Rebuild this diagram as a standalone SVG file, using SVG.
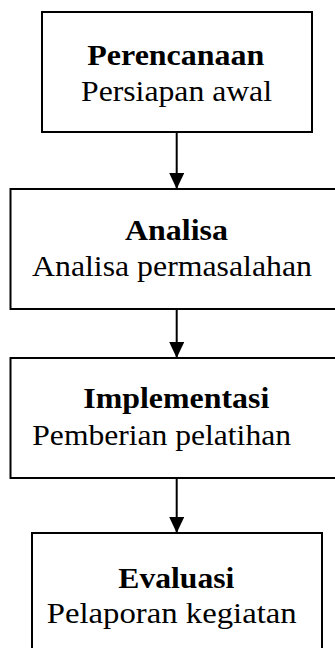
<svg xmlns="http://www.w3.org/2000/svg" width="335" height="648" viewBox="0 0 335 648">
  <style>
    .box { fill: #ffffff; stroke: #000000; stroke-width: 2; }
    .t { font-family: "Liberation Serif", "Times New Roman", serif; font-size: 29px; fill: #000000; }
    .b { font-weight: bold; }
    .conn { stroke: #000000; stroke-width: 2; fill: none; }
  </style>
  <defs>
    <marker id="arrow" markerUnits="userSpaceOnUse" markerWidth="16" markerHeight="15" refX="16" refY="7.5" orient="auto">
      <path d="M0,0 L16,7.5 L0,15 z" fill="#000000"/>
    </marker>
  </defs>
  <rect width="335" height="648" fill="#ffffff"/>
  <g id="connectors">
    <line class="conn" x1="176.7" y1="132" x2="176.7" y2="189" marker-end="url(#arrow)"/>
    <line class="conn" x1="176.7" y1="309" x2="176.7" y2="358" marker-end="url(#arrow)"/>
    <line class="conn" x1="176.7" y1="478" x2="176.7" y2="533" marker-end="url(#arrow)"/>
  </g>
  <g id="perencanaan">
    <rect class="box" x="42" y="12" width="270" height="120"/>
    <text class="t b" x="87.3" y="65" textLength="177" lengthAdjust="spacingAndGlyphs">Perencanaan</text>
    <text class="t" x="81" y="100.7" textLength="191" lengthAdjust="spacingAndGlyphs">Persiapan awal</text>
  </g>
  <g id="analisa">
    <rect class="box" x="10.5" y="189" width="333" height="120"/>
    <text class="t b" x="125" y="240" textLength="103" lengthAdjust="spacingAndGlyphs">Analisa</text>
    <text class="t" x="32" y="276" textLength="280" lengthAdjust="spacingAndGlyphs">Analisa permasalahan</text>
  </g>
  <g id="implementasi">
    <rect class="box" x="10.5" y="358" width="333" height="120"/>
    <text class="t b" x="83.3" y="408.3" textLength="186" lengthAdjust="spacingAndGlyphs">Implementasi</text>
    <text class="t" x="32.3" y="445" textLength="258.7" lengthAdjust="spacingAndGlyphs">Pemberian pelatihan</text>
  </g>
  <g id="evaluasi">
    <rect class="box" x="32" y="533" width="290" height="130"/>
    <text class="t b" x="118.3" y="587.7" textLength="116" lengthAdjust="spacingAndGlyphs">Evaluasi</text>
    <text class="t" x="46.7" y="623.3" textLength="250" lengthAdjust="spacingAndGlyphs">Pelaporan kegiatan</text>
  </g>
</svg>
